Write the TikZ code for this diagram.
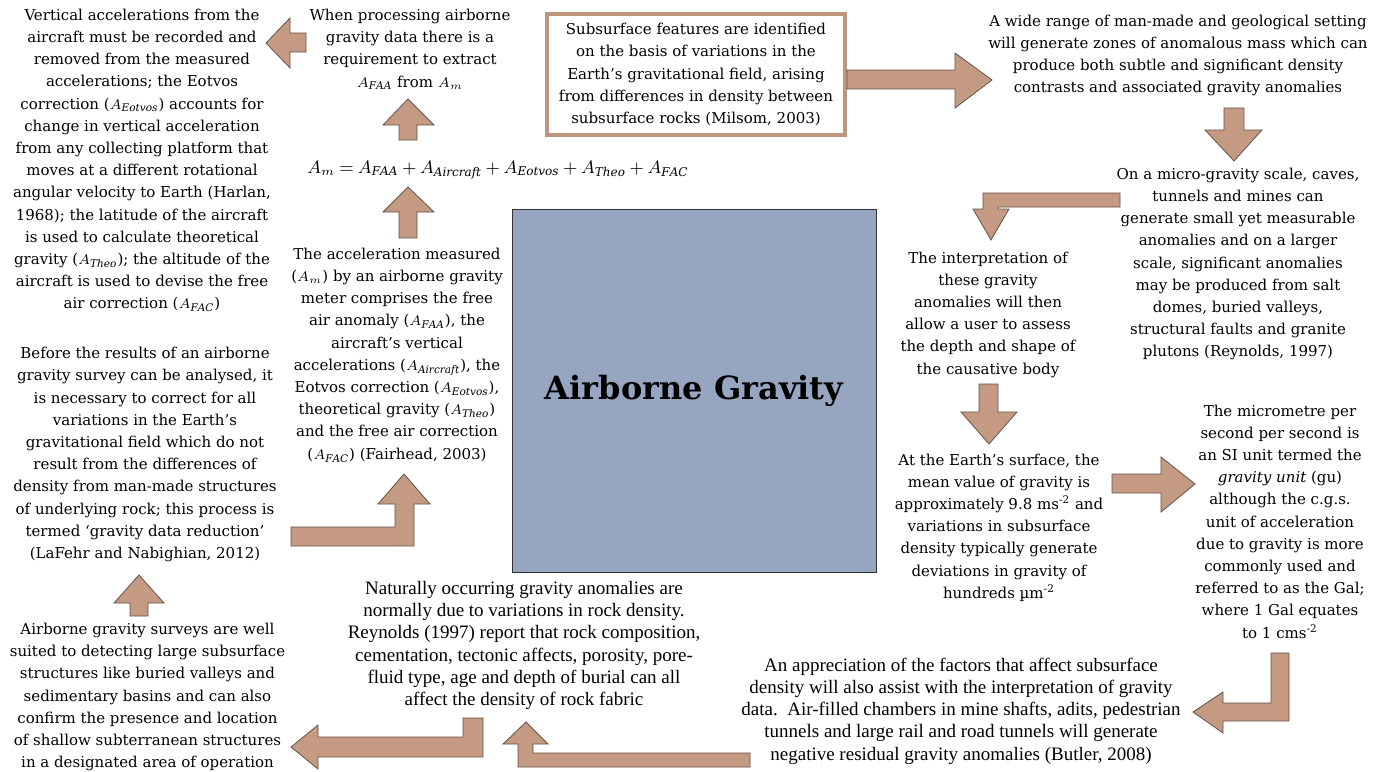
\documentclass[tikz,border=0pt]{standalone}
\usepackage{fontspec}
\setmainfont{DejaVu Serif}
\newfontfamily\narrowfont{Liberation Serif}
\definecolor{arrowfill}{RGB}{196,154,130}
\definecolor{arrowline}{RGB}{98,84,76}
\definecolor{boxline}{RGB}{190,150,126}
\definecolor{titlefill}{RGB}{150,165,192}

\begin{document}
\begin{tikzpicture}[x=0.5pt, y=-0.5pt,
  txt/.style={align=center, inner sep=0pt, font=\fontsize{7.5}{11.1}\selectfont},
  narrow/.style={align=center, inner sep=0pt, font=\narrowfont\fontsize{9.5}{11.1}\selectfont},
  srcbox/.style={draw=boxline, line width=2pt, minimum width=149pt, minimum height=60.5pt,
                 inner sep=0pt, align=center, font=\fontsize{7.5}{11.1}\selectfont},
  titlebox/.style={draw=black!80, fill=titlefill, line width=0.5pt, minimum width=182pt,
                   minimum height=181.5pt, font=\fontsize{16}{18}\selectfont\bfseries},
  blockarrow/.style={fill=arrowfill, draw=arrowline, line width=0.4pt, line join=miter}]

  \fill[white] (0,0) rectangle (1386,771);
  \useasboundingbox (0,0) rectangle (1386,771);

  \node[titlebox] (title) at (694,390.5) {Airborne Gravity};
  \node[srcbox] (subsurf) at (696,74.5) {Subsurface features are identified\\
    on the basis of variations in the\\ Earth’s gravitational field, arising\\
    from differences in density between\\ subsurface rocks (Milsom, 2003)};

  \node[txt] (vert) at (142,160.5) {Vertical accelerations from the\\
    aircraft must be recorded and\\ removed from the measured\\
    accelerations; the Eotvos\\ correction ($A_{\mathit{Eotvos}}$) accounts for\\
    change in vertical acceleration\\ from any collecting platform that\\
    moves at a different rotational\\ angular velocity to Earth (Harlan,\\
    1968); the latitude of the aircraft\\ is used to calculate theoretical\\
    gravity ($A_{\mathit{Theo}}$); the altitude of the\\
    aircraft is used to devise the free\\ air correction ($A_{\mathit{FAC}}$)};
  \node[txt] (extract) at (410,49.5) {When processing airborne\\
    gravity data there is a\\ requirement to extract\\ $A_{\mathit{FAA}}$ from $A_m$};
  \node[font=\fontsize{9}{12}\selectfont, inner sep=0pt] (eqn) at (498,170)
    {\thickmuskip=4mu \medmuskip=3.5mu
     $A_m = A_{\mathit{FAA}} + A_{\mathit{Aircraft}} + A_{\mathit{Eotvos}}
      + A_{\mathit{Theo}} + A_{\mathit{FAC}}$};
  \node[txt] (measured) at (397,355) {The acceleration measured\\
    ($A_m$) by an airborne gravity\\ meter comprises the free\\
    air anomaly ($A_{\mathit{FAA}}$), the\\ aircraft’s vertical\\
    accelerations ($A_{\mathit{Aircraft}}$), the\\
    Eotvos correction ($A_{\mathit{Eotvos}}$),\\ theoretical gravity ($A_{\mathit{Theo}}$)\\
    and the free air correction\\ ($A_{\mathit{FAC}}$) (Fairhead, 2003)};
  \node[txt] (range) at (1178,55.5) {A wide range of man-made and geological setting\\
    will generate zones of anomalous mass which can\\
    produce both subtle and significant density\\
    contrasts and associated gravity anomalies};
  \node[txt] (micro) at (1238,264) {On a micro-gravity scale, caves,\\
    tunnels and mines can\\ generate small yet measurable\\ anomalies and on a larger\\
    scale, significant anomalies\\ may be produced from salt\\ domes, buried valleys,\\
    structural faults and granite\\ plutons (Reynolds, 1997)};
  \node[txt] (interp) at (988,314.5) {The interpretation of\\ these gravity\\
    anomalies will then\\ allow a user to assess\\ the depth and shape of\\
    the causative body};
  \node[txt] (surface) at (999,527.5) {At the Earth’s surface, the\\
    mean value of gravity is\\ approximately 9.8 ms\textsuperscript{-2} and\\
    variations in subsurface\\ density typically generate\\ deviations in gravity of\\
    hundreds µm\textsuperscript{-2}};
  \node[txt] (unit) at (1280,521.5) {The micrometre per\\ second per second is\\
    an SI unit termed the\\ \textit{gravity unit} (gu)\\ although the c.g.s.\\
    unit of acceleration\\ due to gravity is more\\ commonly used and\\
    referred to as the Gal;\\ where 1 Gal equates\\ to 1 cms\textsuperscript{-2}};
  \node[narrow] (apprec) at (961,711) {An appreciation of the factors that affect subsurface\\
    density will also assist with the interpretation of gravity\\
    data.\ \ Air-filled chambers in mine shafts, adits, pedestrian\\
    tunnels and large rail and road tunnels will generate\\
    negative residual gravity anomalies (Butler, 2008)};
  \node[narrow] (natural) at (524,645.5) {Naturally occurring gravity anomalies are\\
    normally due to variations in rock density.\\
    Reynolds (1997) report that rock composition,\\
    cementation, tectonic affects, porosity, pore-\\
    fluid type, age and depth of burial can all\\
    affect the density of rock fabric};
  \node[txt] (surveys) at (147.5,697) {Airborne gravity surveys are well\\
    suited to detecting large subsurface\\ structures like buried valleys and\\
    sedimentary basins and can also\\ confirm the presence and location\\
    of shallow subterranean structures\\ in a designated area of operation};
  \node[txt] (before) at (145,454.5) {Before the results of an airborne\\
    gravity survey can be analysed, it\\ is necessary to correct for all\\
    variations in the Earth’s\\ gravitational field which do not\\
    result from the differences of\\ density from man-made structures\\
    of underlying rock; this process is\\ termed ‘gravity data reduction’\\
    (LaFehr and Nabighian, 2012)};

  % block arrows
  \draw[blockarrow] (847,70) -- (955,70) -- (955,53) -- (992,80) -- (955,108) -- (955,89)
    -- (847,89) -- cycle;
  \draw[blockarrow] (1224,108) -- (1244,108) -- (1244,130) -- (1262,130) -- (1234,161)
    -- (1205,130) -- (1224,130) -- cycle;
  \draw[blockarrow] (1120,193) -- (983,193) -- (983,209) -- (973,209) -- (991,240)
    -- (1009,209) -- (998,209) -- (998,207) -- (1120,207) -- cycle;
  \draw[blockarrow] (979,384) -- (998,384) -- (998,412) -- (1017,412) -- (989,444)
    -- (961,412) -- (979,412) -- cycle;
  \draw[blockarrow] (1112,474) -- (1161,474) -- (1161,457) -- (1195,484) -- (1161,512)
    -- (1161,493) -- (1112,493) -- cycle;
  \draw[blockarrow] (1271,653) -- (1289,653) -- (1289,721) -- (1223,721) -- (1223,733)
    -- (1193,712) -- (1223,692) -- (1223,703) -- (1271,703) -- cycle;
  \draw[blockarrow] (750,753) -- (750,767) -- (518,767) -- (518,744) -- (503,744)
    -- (526,722) -- (548,744) -- (533,744) -- (533,753) -- cycle;
  \draw[blockarrow] (463,718) -- (483,718) -- (483,757) -- (318,757) -- (318,769)
    -- (291,747) -- (318,725) -- (318,737) -- (463,737) -- cycle;
  \draw[blockarrow] (130,616) -- (130,603) -- (114,603) -- (139,575) -- (164,603)
    -- (148,603) -- (148,616) -- cycle;
  \draw[blockarrow] (291,527) -- (395,527) -- (395,504) -- (378,504) -- (404,474)
    -- (430,504) -- (414,504) -- (414,546) -- (291,546) -- cycle;
  \draw[blockarrow] (399,238) -- (399,212) -- (383,212) -- (408,187) -- (434,212)
    -- (417,212) -- (417,238) -- cycle;
  \draw[blockarrow] (399,140) -- (399,125) -- (383,125) -- (408,99) -- (434,125)
    -- (417,125) -- (417,140) -- cycle;
  \draw[blockarrow] (306,33) -- (290,33) -- (290,18) -- (266,43) -- (290,68) -- (290,52)
    -- (306,52) -- cycle;
\end{tikzpicture}
\end{document}
